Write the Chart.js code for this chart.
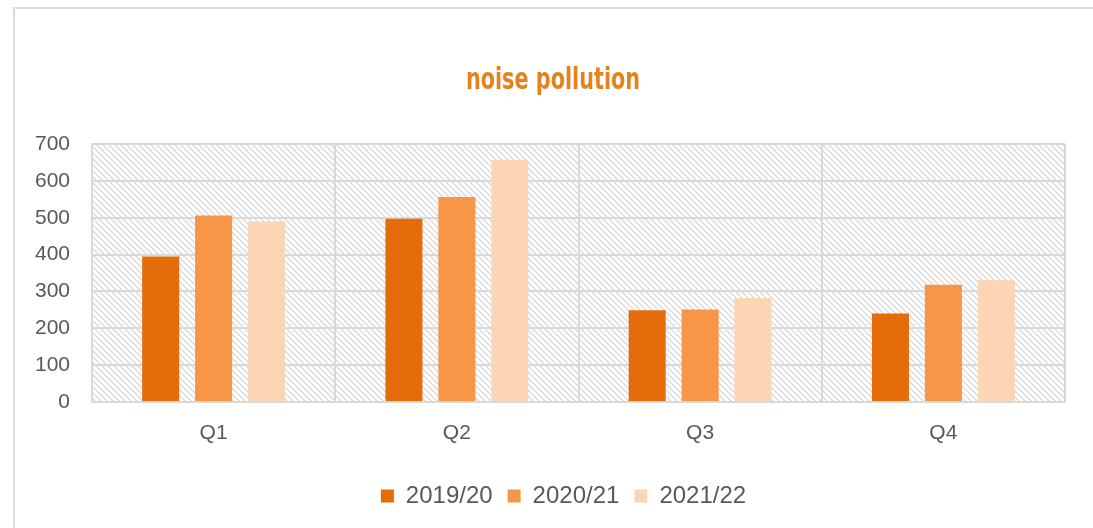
<!DOCTYPE html>
<html>
<head>
<meta charset="utf-8">
<script src="https://cdn.jsdelivr.net/npm/chart.js@4"></script>
<style>
  html, body { margin: 0; padding: 0; background: #ffffff; overflow: hidden; }
  #wrap { position: relative; width: 1093px; height: 528px; }
  #frame { position: absolute; left: 13px; top: 7px; width: 1100px; height: 600px; border: 2px solid #dcdcdc; box-sizing: border-box; }
  #c { position: absolute; left: 0; top: 0; }
</style>
</head>
<body>
<div id="wrap">
  <div id="frame"></div>
  <canvas id="c" width="1093" height="528"></canvas>
</div>
<script>
const categories = ['Q1', 'Q2', 'Q3', 'Q4'];
const seriesNames = ['2019/20', '2020/21', '2021/22'];
const values2019 = [395, 497, 249, 240];
const values2020 = [506, 556, 251, 318];
const values2021 = [490, 657, 282, 330];
const yTicks = [0, 100, 200, 300, 400, 500, 600, 700];
const titleText = 'noise pollution';

const colors = ['#E46C0A', '#F79646', '#FCD5B5'];

function makePattern() {
  const s = 6;
  const pc = document.createElement('canvas');
  pc.width = s; pc.height = s;
  const p = pc.getContext('2d');
  p.fillStyle = '#ffffff';
  p.fillRect(0, 0, s, s);
  p.strokeStyle = '#d3d3d3';
  p.lineWidth = 1.2;
  p.beginPath();
  p.moveTo(-1, -1); p.lineTo(s + 1, s + 1);
  p.moveTo(-1, s - 1); p.lineTo(1, s + 1);
  p.moveTo(s - 1, -1); p.lineTo(s + 1, 1);
  p.stroke();
  return p;
}

const hatchPlugin = {
  id: 'hatch',
  beforeDraw(chart) {
    const {ctx, chartArea} = chart;
    const pctx = makePattern();
    const pat = ctx.createPattern(pctx.canvas, 'repeat');
    ctx.save();
    ctx.fillStyle = pat;
    ctx.fillRect(chartArea.left, chartArea.top, chartArea.right - chartArea.left, chartArea.bottom - chartArea.top);
    ctx.restore();
  }
};

const titlePlugin = {
  id: 'condTitle',
  afterDraw(chart) {
    const ctx = chart.ctx;
    ctx.save();
    ctx.translate(553, 89);
    ctx.scale(0.77, 1);
    ctx.font = "bold 30px 'DejaVu Sans Condensed', 'DejaVu Sans', sans-serif";
    ctx.fillStyle = '#E6821E';
    ctx.textAlign = 'center';
    ctx.textBaseline = 'alphabetic';
    ctx.fillText(titleText, 0, 0);
    ctx.restore();
  }
};

const legendShift = {
  id: 'legendShift',
  afterLayout(chart) {
    const lg = chart.legend;
    if (lg) { lg.left += 31; lg.right += 31; }
  }
};

const data = {
  labels: categories,
  datasets: [
    { label: seriesNames[0], data: values2019, backgroundColor: colors[0] },
    { label: seriesNames[1], data: values2020, backgroundColor: colors[1] },
    { label: seriesNames[2], data: values2021, backgroundColor: colors[2] }
  ]
};

new Chart(document.getElementById('c'), {
  type: 'bar',
  data: data,
  plugins: [hatchPlugin, titlePlugin, legendShift],
  options: {
    responsive: false,
    animation: false,
    devicePixelRatio: 1,
    layout: { padding: { left: 0, right: 28, top: 144, bottom: 10 } },
    datasets: { bar: { categoryPercentage: 0.653, barPercentage: 0.70 } },
    plugins: {
      title: { display: false },
      legend: {
        position: 'bottom',
        labels: {
          boxWidth: 13,
          boxHeight: 13,
          color: '#595959',
          font: { family: "'Liberation Sans', Arial, sans-serif", size: 24 },
          padding: 15
        }
      },
      tooltip: { enabled: false }
    },
    scales: {
      x: {
        grid: { display: true, color: '#d9d9d9', lineWidth: 2, drawTicks: false, offset: true },
        border: { display: true, color: '#d9d9d9', width: 2 },
        ticks: { color: '#595959', font: { family: "'Liberation Sans', Arial, sans-serif", size: 21 }, padding: 19 },
        afterFit(scale) { scale.height = 67; }
      },
      y: {
        min: 0,
        max: 700,
        afterBuildTicks(scale) { scale.ticks = yTicks.map(v => ({ value: v })); },
        grid: { color: '#d9d9d9', lineWidth: 2, drawTicks: false },
        border: { display: true, color: '#d9d9d9', width: 2 },
        ticks: { color: '#595959', font: { family: "'Liberation Sans', Arial, sans-serif", size: 21 }, padding: 22 },
        afterFit(scale) { scale.width = 92; }
      }
    }
  }
});
</script>
</body>
</html>
